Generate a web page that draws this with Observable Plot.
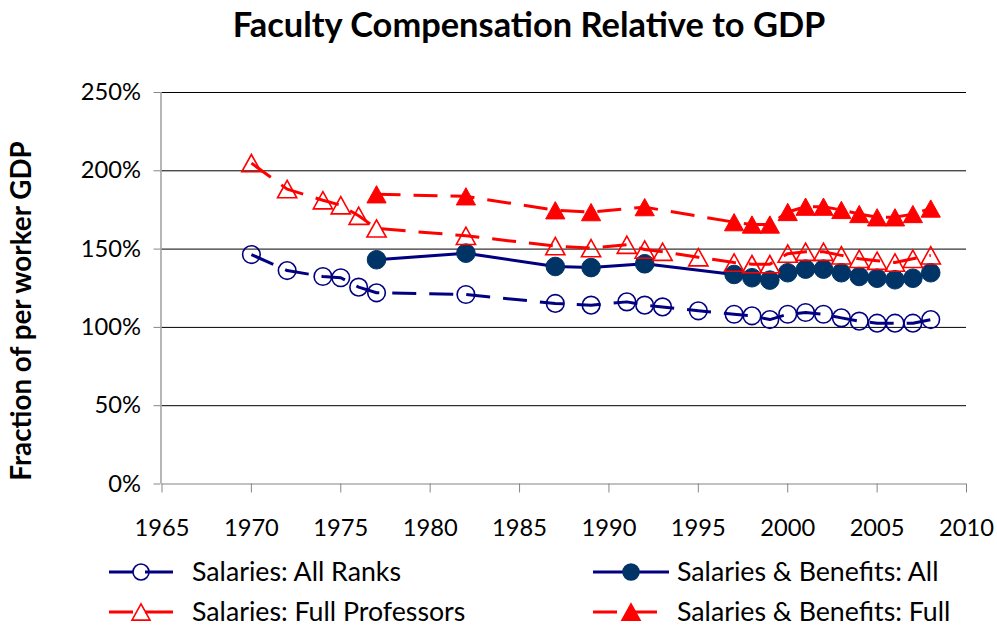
<!DOCTYPE html>
<html><head><meta charset="utf-8">
<script src="https://cdn.jsdelivr.net/npm/d3@7"></script>
<script src="https://cdn.jsdelivr.net/npm/@observablehq/plot@0.6"></script>
<style>
html,body{margin:0;padding:0;background:#fff;}
#wrap{position:relative;width:997px;height:629px;overflow:hidden;font-family:Lato,"Open Sans",sans-serif;}
#wrap > svg{position:absolute;left:0;top:0;}
</style></head><body><div id="wrap"></div>
<script>
// ---- data ----
const titleText = "Faculty Compensation Relative to GDP";
const yTitleText = "Fraction of per worker GDP";
const seriesNames = ["Salaries: All Ranks", "Salaries & Benefits: All", "Salaries: Full Professors", "Salaries & Benefits: Full"];

const yearsSalaries = [1970,1972,1974,1975,1976,1977,1982,1987,1989,1991,1992,1993,1995,1997,1998,1999,2000,2001,2002,2003,2004,2005,2006,2007,2008];
const salariesAllRanks = [146.5,136.3,132.5,131.7,125.7,122.1,121.0,115.3,114.2,116.3,114.2,113.1,110.6,108.4,107.4,105.0,108.4,109.5,108.4,106.1,104.0,102.7,102.7,102.7,105.0];
const salariesFullProfessors = [204.9,188.3,181.2,178.0,171.3,163.2,158.5,151.9,150.6,152.8,149.7,148.3,144.8,141.4,140.4,140.4,147.1,148.3,148.3,146.0,143.8,142.6,141.4,143.8,146.0];

const yearsBenefits = [1977,1982,1987,1989,1992,1997,1998,1999,2000,2001,2002,2003,2004,2005,2006,2007,2008];
const benefitsAll = [143.2,147.4,138.9,138.2,140.6,133.8,131.7,130.2,134.9,137.2,137.2,134.9,132.5,131.4,130.4,131.4,134.9];
const benefitsFull = [185.0,183.7,174.8,173.6,176.8,167.2,165.7,165.7,173.7,177.1,177.1,175.0,172.4,170.3,170.3,172.4,175.9];

const xTicks = [1965,1970,1975,1980,1985,1990,1995,2000,2005,2010];
const yTicks = [0,50,100,150,200,250];

// ---- styles ----
const NAVY = "#000080", DARK = "#003366", RED = "#ff0000", AXIS = "#868686";
const FONT = "Lato";
const DASH = "24,13";
const LEG_DASH = "24,12,28";

const sal = yearsSalaries.map((year, i) => ({year, all: salariesAllRanks[i], full: salariesFullProfessors[i]}));
const ben = yearsBenefits.map((year, i) => ({year, all: benefitsAll[i], full: benefitsFull[i]}));

// triangle centred on its bounding box (spreadsheet style marker)
const triangleBox = {
  draw(ctx, size) {
    const r = Math.sqrt(size / Math.PI);
    ctx.moveTo(0, -0.9 * r);
    ctx.lineTo(r, 0.9 * r);
    ctx.lineTo(-r, 0.9 * r);
    ctx.closePath();
  }
};

// text fitting helper
const cv = document.createElement("canvas").getContext("2d");
function fit(text, weight, target) {
  cv.font = `${weight} 100px ${FONT}`;
  return 100 * target / cv.measureText(text).width;
}

const tickSize = fit("1965", "normal", 55);

const chart = Plot.plot({
  width: 997, height: 545,
  marginTop: 92, marginBottom: 61.5, marginLeft: 161.5, marginRight: 31,
  style: {fontFamily: FONT, fontSize: tickSize + "px", color: "#000", background: "transparent", overflow: "visible"},
  x: {domain: [1965, 2010], label: null},
  y: {domain: [0, 250], label: null},
  marks: [
    Plot.gridY(yTicks.filter(d => d > 0), {stroke: "#000", strokeOpacity: 1, strokeWidth: 1}),
    Plot.ruleX([1965], {stroke: AXIS, strokeWidth: 1.2, dx: -1}),
    Plot.ruleY([0], {stroke: AXIS, strokeWidth: 1.2}),
    Plot.axisX({ticks: xTicks, tickFormat: d => String(d), tickSize: 9, tickPadding: 26, stroke: AXIS, fill: "#000", fontVariant: "normal"}),
    Plot.axisY({ticks: yTicks, tickFormat: d => d + "%", tickSize: 7, tickPadding: 13, stroke: AXIS, fill: "#000", dx: -1}),

    Plot.line(sal, {x: "year", y: "all", stroke: NAVY, strokeWidth: 3, strokeDasharray: DASH, strokeLinecap: "butt"}),
    Plot.dot(sal, {x: "year", y: "all", r: 8.8, stroke: NAVY, strokeWidth: 1.6, fill: "none"}),

    Plot.line(ben, {x: "year", y: "all", stroke: NAVY, strokeWidth: 3}),
    Plot.dot(ben, {x: "year", y: "all", r: 9.3, stroke: DARK, strokeWidth: 1, fill: DARK}),

    Plot.line(sal, {x: "year", y: "full", stroke: RED, strokeWidth: 3, strokeDasharray: DASH, strokeLinecap: "butt"}),
    Plot.dot(sal, {x: "year", y: "full", r: 9.6, symbol: triangleBox, stroke: RED, strokeWidth: 1.6, fill: "none"}),

    Plot.line(ben, {x: "year", y: "full", stroke: RED, strokeWidth: 3, strokeDasharray: DASH, strokeLinecap: "butt"}),
    Plot.dot(ben, {x: "year", y: "full", r: 9.6, symbol: triangleBox, stroke: RED, strokeWidth: 1, fill: RED})
  ]
});

const wrap = document.getElementById("wrap");
wrap.appendChild(chart);

// overlay: title, y-axis title, legend
const ov = d3.select(wrap).append("svg").attr("width", 997).attr("height", 629)
  .style("font-family", FONT);

ov.append("text").attr("x", 529).attr("y", 37).attr("text-anchor", "middle")
  .attr("font-weight", "bold").attr("font-size", fit(titleText, "bold", 594))
  .text(titleText);

ov.append("text").attr("transform", "translate(31,311) rotate(-90)").attr("text-anchor", "middle")
  .attr("font-weight", "bold").attr("font-size", fit(yTitleText, "bold", 342))
  .text(yTitleText);

const legSize = d3.mean([[0,210],[1,263],[2,273],[3,273]], ([i,w]) => fit(seriesNames[i], "normal", w));
const legendItems = [
  {name: seriesNames[0], line: NAVY, dash: LEG_DASH, marker: "circle", mStroke: NAVY, mFill: "none", col: 0, row: 0},
  {name: seriesNames[1], line: NAVY, dash: null, marker: "circle", mStroke: DARK, mFill: DARK, col: 1, row: 0},
  {name: seriesNames[2], line: RED, dash: LEG_DASH, marker: "tri", mStroke: RED, mFill: "none", col: 0, row: 1},
  {name: seriesNames[3], line: RED, dash: LEG_DASH, marker: "tri", mStroke: RED, mFill: RED, col: 1, row: 1}
];
const colX = [[109, 173, 141, 192], [593, 669, 631, 677]];
const rowY = [572, 612];
for (const it of legendItems) {
  const [x1, x2, mx, tx] = colX[it.col];
  const y = rowY[it.row];
  const g = ov.append("g");
  g.append("line").attr("x1", x1).attr("x2", x2).attr("y1", y).attr("y2", y)
    .attr("stroke", it.line).attr("stroke-width", 3).attr("stroke-dasharray", it.dash);
  if (it.marker === "circle") {
    g.append("circle").attr("cx", mx).attr("cy", y).attr("r", 8)
      .attr("stroke", it.mStroke).attr("stroke-width", 1.6).attr("fill", it.mFill);
  } else {
    g.append("path").attr("transform", `translate(${mx},${y})`)
      .attr("d", d3.symbol(triangleBox, Math.PI * 9 * 9)())
      .attr("stroke", it.mStroke).attr("stroke-width", 1.6).attr("fill", it.mFill);
  }
  g.append("text").attr("x", tx).attr("y", y).attr("dy", "0.35em").attr("font-size", legSize).text(it.name);
}
</script>
</body></html>
